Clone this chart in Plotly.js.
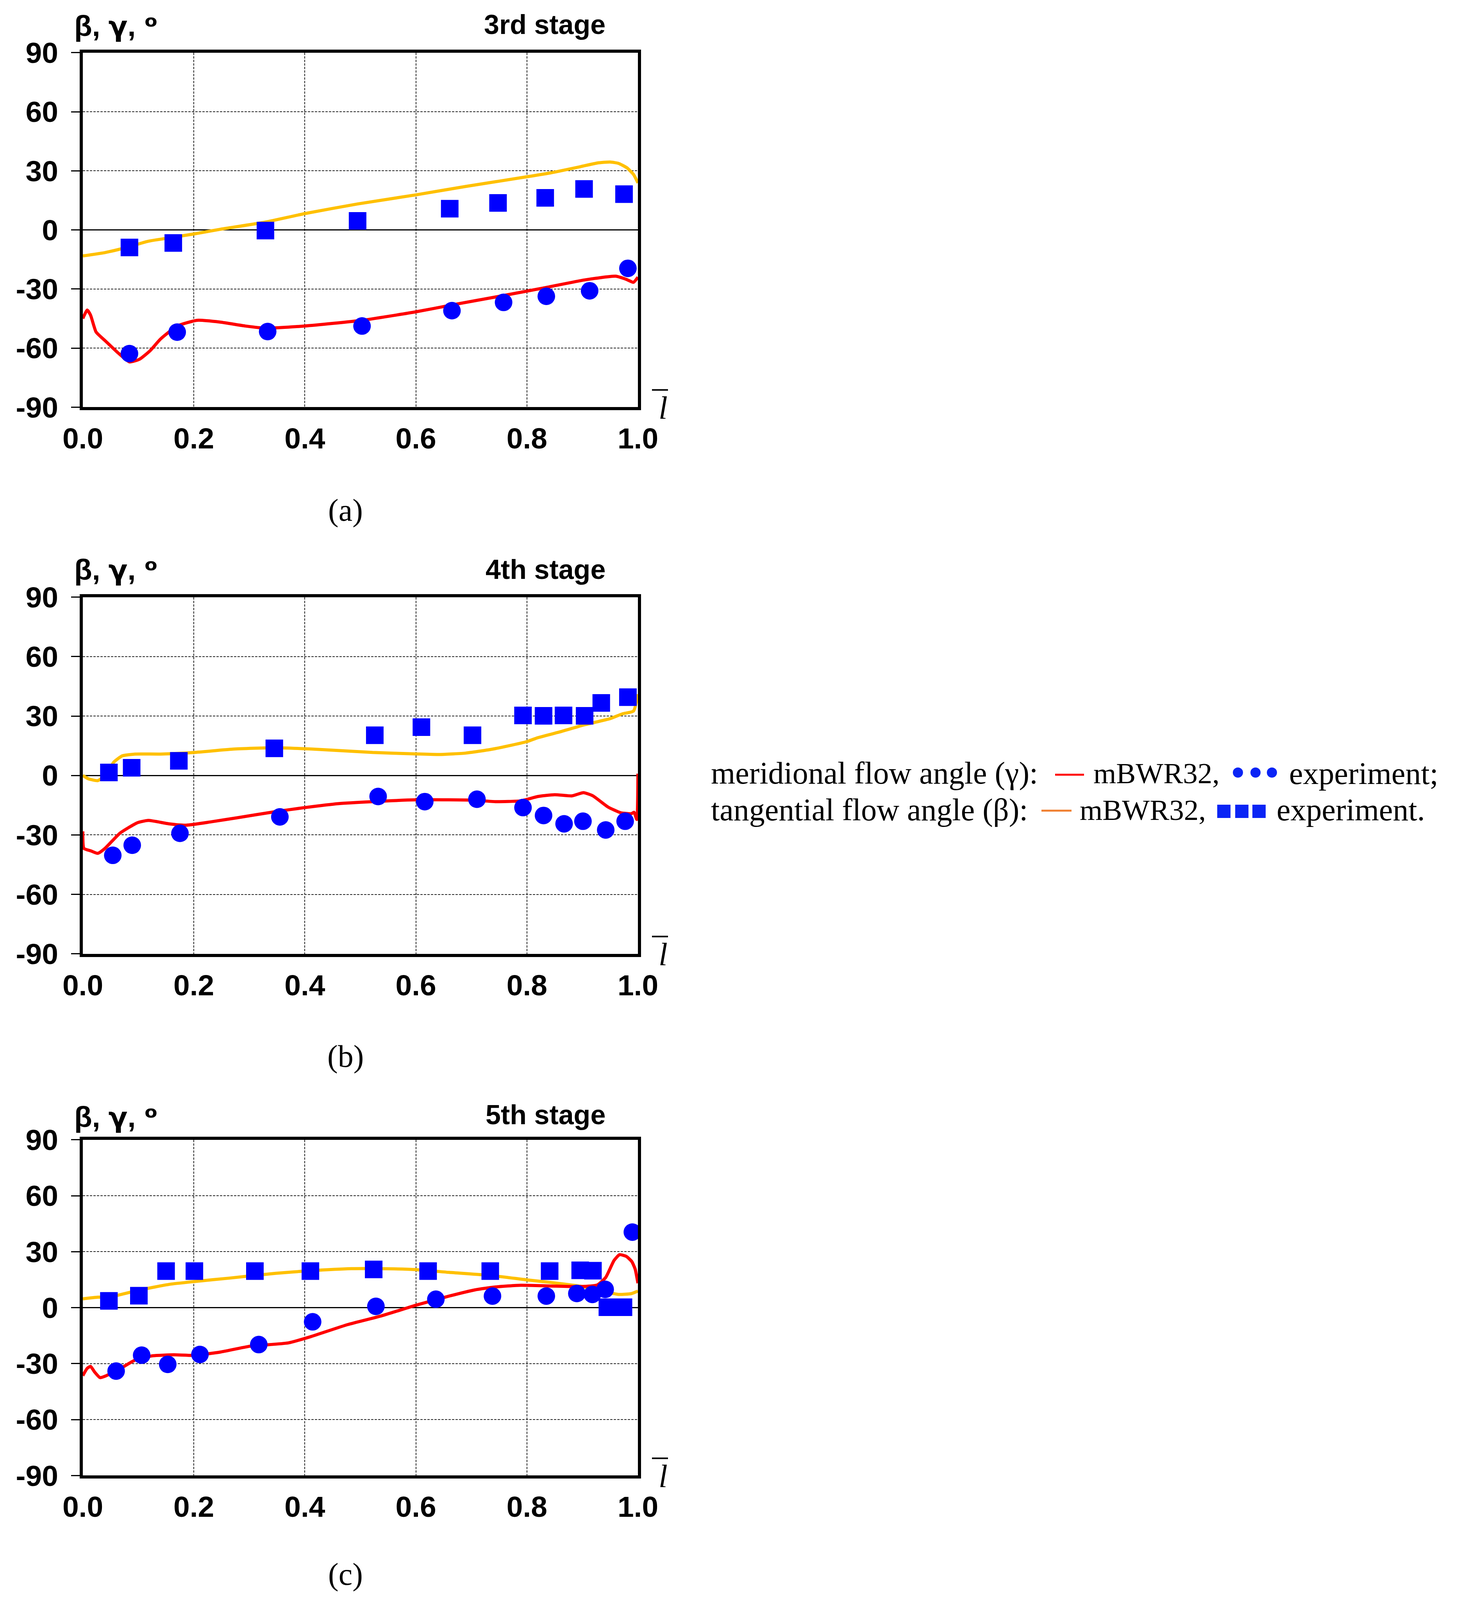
<!DOCTYPE html>
<html>
<head>
<meta charset="utf-8">
<script src="https://cdn.plot.ly/plotly-3.0.1.min.js"></script>
<style>html,body{margin:0;padding:0;background:#fff;overflow:hidden;}</style>
</head>
<body>
<div id="chart"></div>
<script>
// ---------- data ----------
const xTickVals = [0, 0.2, 0.4, 0.6, 0.8, 1.0];
const xTickText = ['0.0', '0.2', '0.4', '0.6', '0.8', '1.0'];
const yTickVals = [-90, -60, -30, 0, 30, 60, 90];
const yTickText = ['-90', '-60', '-30', '0', '30', '60', '90'];
const stageTitles = ['3rd stage', '4th stage', '5th stage'];
const panelLabels = ['(a)', '(b)', '(c)'];
const yTitleText = 'β, <span style="font-family:DejaVu Sans;font-size:72px">γ</span>, <span style="font-family:DejaVu Sans;font-size:75px">ᵒ</span>';
const legendRow1 = ['meridional flow angle (γ):', 'mBWR32,', 'experiment;'];
const legendRow2 = ['tangential flow angle (β):', 'mBWR32,', 'experiment.'];
const axisSymbol = 'l';

// Panel (a) 3rd stage
const a_betaModelX = [0, 0.040, 0.079, 0.117, 0.163, 0.201, 0.247, 0.329, 0.400, 0.495, 0.600, 0.690, 0.800, 0.843, 0.896, 0.927, 0.950, 0.965, 0.980, 0.992, 1.0];
const a_betaModelY = [-13.2, -11.5, -8.9, -5.8, -3.7, -2.0, 0.3, 4.0, 8.3, 13.2, 17.8, 22.1, 27.0, 29.0, 32.1, 34.0, 34.5, 33.8, 31.6, 28.2, 23.9];
const a_gammaModelX = [0, 0.008, 0.014, 0.024, 0.040, 0.063, 0.084, 0.102, 0.121, 0.140, 0.170, 0.206, 0.247, 0.293, 0.329, 0.400, 0.503, 0.600, 0.665, 0.758, 0.835, 0.904, 0.960, 0.980, 0.992, 1.0];
const a_gammaModelY = [-45.0, -40.7, -43.3, -51.9, -56.2, -62.3, -67.0, -65.7, -61.4, -55.4, -48.8, -45.9, -46.8, -48.8, -49.9, -48.8, -45.9, -41.6, -38.1, -33.3, -29.2, -25.4, -23.5, -25.2, -26.6, -24.0];
const a_betaExpX = [0.084, 0.163, 0.329, 0.495, 0.661, 0.748, 0.833, 0.903, 0.975];
const a_betaExpY = [-8.9, -6.6, -0.3, 4.6, 10.8, 13.7, 16.3, 20.8, 18.2];
const a_gammaExpX = [0.084, 0.170, 0.333, 0.503, 0.665, 0.758, 0.835, 0.913, 0.982];
const a_gammaExpY = [-62.8, -51.9, -51.6, -48.8, -41.0, -36.8, -33.7, -30.9, -19.5];

// Panel (b) 4th stage
const b_betaModelX = [0, 0.010, 0.027, 0.040, 0.056, 0.071, 0.094, 0.140, 0.201, 0.270, 0.346, 0.422, 0.522, 0.600, 0.644, 0.690, 0.736, 0.766, 0.800, 0.820, 0.858, 0.904, 0.950, 0.972, 0.992, 1.0];
const b_betaModelY = [0, -1.7, -2.6, 0, 6.8, 9.9, 10.8, 10.8, 11.6, 13.3, 14.0, 13.2, 11.6, 10.9, 10.6, 11.3, 13.2, 14.9, 17.1, 19.1, 21.9, 25.6, 28.7, 31.1, 32.5, 41.0];
const b_gammaModelX = [0, 0.002, 0.014, 0.027, 0.040, 0.067, 0.098, 0.118, 0.155, 0.186, 0.231, 0.277, 0.346, 0.400, 0.461, 0.522, 0.600, 0.659, 0.705, 0.743, 0.789, 0.820, 0.850, 0.881, 0.902, 0.919, 0.946, 0.969, 0.988, 0.993, 0.998, 1.0];
const b_gammaModelY = [-28.2, -36.8, -38.0, -39.3, -36.8, -29.1, -23.9, -22.7, -24.4, -25.1, -23.4, -21.4, -18.3, -16.2, -14.2, -13.2, -12.3, -12.3, -12.5, -13.2, -12.8, -10.6, -9.7, -10.3, -8.7, -10.3, -15.9, -18.8, -19.3, -18.6, -22.2, 0.9];
const b_betaExpX = [0.047, 0.088, 0.173, 0.345, 0.526, 0.610, 0.702, 0.793, 0.830, 0.866, 0.904, 0.934, 0.982];
const b_betaExpY = [1.5, 3.9, 7.4, 13.7, 20.3, 24.4, 20.3, 30.3, 30.1, 30.3, 30.1, 36.6, 39.5];
const b_gammaExpX = [0.054, 0.089, 0.175, 0.355, 0.532, 0.616, 0.710, 0.793, 0.830, 0.867, 0.901, 0.942, 0.977];
const b_gammaExpY = [-40.3, -35.2, -29.2, -20.9, -10.6, -13.2, -12.0, -16.2, -20.2, -24.4, -23.1, -27.5, -23.1];

// Panel (c) 5th stage
const c_betaModelX = [0, 0.027, 0.050, 0.103, 0.156, 0.201, 0.263, 0.347, 0.410, 0.484, 0.538, 0.600, 0.660, 0.734, 0.800, 0.843, 0.896, 0.934, 0.965, 0.988, 1.0];
const c_betaModelY = [4.7, 5.6, 5.8, 9.5, 12.5, 14.0, 15.8, 18.4, 19.8, 20.9, 20.9, 20.4, 18.9, 17.3, 14.9, 13.5, 11.5, 8.9, 7.1, 7.5, 8.9];
const c_gammaModelX = [0, 0.008, 0.014, 0.021, 0.031, 0.042, 0.069, 0.095, 0.126, 0.164, 0.201, 0.248, 0.301, 0.370, 0.410, 0.477, 0.538, 0.600, 0.660, 0.706, 0.744, 0.789, 0.843, 0.896, 0.927, 0.942, 0.957, 0.967, 0.979, 0.989, 0.995, 1.0];
const c_gammaModelY = [-36.5, -32.5, -31.5, -34.4, -37.5, -36.5, -32.4, -28.0, -25.8, -25.3, -25.6, -23.8, -20.7, -18.9, -15.6, -9.1, -4.4, 1.3, 6.2, 9.5, 11.1, 12.0, 11.6, 11.3, 12.2, 16.2, 25.3, 28.4, 27.5, 24.7, 20.7, 13.1];
const c_betaExpX = [0.047, 0.101, 0.150, 0.201, 0.310, 0.410, 0.524, 0.622, 0.734, 0.841, 0.896, 0.919, 0.945, 0.974];
const c_betaExpY = [3.6, 6.4, 19.6, 19.6, 19.6, 19.6, 20.5, 19.6, 19.6, 19.6, 20.0, 19.8, 0.2, 0.2];
const c_gammaExpX = [0.060, 0.106, 0.153, 0.211, 0.317, 0.414, 0.528, 0.636, 0.738, 0.835, 0.890, 0.918, 0.941, 0.990];
const c_gammaExpY = [-34.0, -25.5, -30.4, -25.1, -19.8, -7.6, 0.7, 4.5, 6.2, 6.2, 7.6, 7.1, 9.8, 40.5];

// ---------- styling / layout ----------
// Design frame is 3781 x 4370; positions are converted to paper fractions,
// so the figure fills whatever viewport the page actually gets.
const REF_W = 3781, REF_H = 4370;
const vw = window.innerWidth || REF_W, vh = window.innerHeight || REF_H;
const W = Math.min(REF_W, vw), H = Math.min(REF_H, vh);
document.getElementById('chart').style.width = W + 'px';
document.getElementById('chart').style.height = H + 'px';
const px = v => v / REF_W;
const py = v => 1 - v / REF_H;
const RED = '#FF0000', GOLD = '#FFC000', BLUE = '#0000FF', LEG_ORANGE = '#F07F30', LEG_BLUE = '#0A24F5';
const plotLeft = 212, plotRight = 1633;
const panels = [
  {top: 144, bottom: 1112, bx: a_betaModelX, by: a_betaModelY, gx: a_gammaModelX, gy: a_gammaModelY,
   sbx: a_betaExpX, sby: a_betaExpY, sgx: a_gammaExpX, sgy: a_gammaExpY, titleY: 70, stageY: 67, labelY: 1394},
  {top: 1631, bottom: 2605, bx: b_betaModelX, by: b_betaModelY, gx: b_gammaModelX, gy: b_gammaModelY,
   sbx: b_betaExpX, sby: b_betaExpY, sgx: b_gammaExpX, sgy: b_gammaExpY, titleY: 1556, stageY: 1555, labelY: 2885},
  {top: 3113, bottom: 4030, bx: c_betaModelX, by: c_betaModelY, gx: c_gammaModelX, gy: c_gammaModelY,
   sbx: c_betaExpX, sby: c_betaExpY, sgx: c_gammaExpX, sgy: c_gammaExpY, titleY: 3050, stageY: 3045, labelY: 4300}
];

const sansBold = {family: 'Liberation Sans, Arial, sans-serif', size: 75, color: '#000', weight: 'bold'};
const serif = 'Liberation Serif, Times New Roman, serif';

const traces = [];
const layout = {
  width: W, height: H,
  margin: {l: 0, r: 0, t: 0, b: 0},
  paper_bgcolor: '#fff', plot_bgcolor: '#fff',
  showlegend: false,
  annotations: [], shapes: []
};

panels.forEach((p, i) => {
  const n = i === 0 ? '' : String(i + 1);
  const xa = 'x' + n, ya = 'y' + n;
  traces.push({x: p.bx, y: p.by, xaxis: xa, yaxis: ya, mode: 'lines', line: {color: GOLD, width: 8, shape: 'spline', smoothing: 0.5}});
  traces.push({x: p.gx, y: p.gy, xaxis: xa, yaxis: ya, mode: 'lines', line: {color: RED, width: 8, shape: 'spline', smoothing: 0.5}});
  traces.push({x: p.sbx, y: p.sby, xaxis: xa, yaxis: ya, mode: 'markers', marker: {symbol: 'square', size: 45, color: BLUE}});
  traces.push({x: p.sgx, y: p.sgy, xaxis: xa, yaxis: ya, mode: 'markers', marker: {symbol: 'circle', size: 45, color: BLUE}});

  layout['xaxis' + n] = {
    domain: [px(plotLeft), px(plotRight)], anchor: ya, range: [0, 1],
    tickvals: xTickVals, ticktext: xTickText, ticks: '',
    tickfont: sansBold, ticklabelstandoff: 8,
    showgrid: true, gridcolor: '#2a2a2a', gridwidth: 2, griddash: '6px,3px',
    zeroline: false, showline: true, linecolor: '#000', linewidth: 8, mirror: true,
    fixedrange: true
  };
  layout['yaxis' + n] = {
    domain: [py(p.bottom), py(p.top)], anchor: xa, range: [-90, 90],
    tickvals: yTickVals, ticktext: yTickText, ticks: 'outside', ticklen: 22, tickwidth: 3, tickcolor: '#000',
    tickfont: sansBold, ticklabelstandoff: 18,
    showgrid: true, gridcolor: '#2a2a2a', gridwidth: 2, griddash: '6px,3px',
    zeroline: true, zerolinecolor: '#000', zerolinewidth: 3,
    showline: true, linecolor: '#000', linewidth: 8, mirror: true,
    fixedrange: true
  };

  layout.annotations.push({xref: 'paper', yref: 'paper', x: px(188), y: py(p.titleY), xanchor: 'left', yanchor: 'middle',
    text: yTitleText, showarrow: false, font: sansBold});
  layout.annotations.push({xref: 'paper', yref: 'paper', x: px(1552), y: py(p.stageY), xanchor: 'right', yanchor: 'middle',
    text: stageTitles[i], showarrow: false, font: {family: 'Liberation Sans, Arial, sans-serif', size: 70, color: '#000', weight: 'bold'}});
  layout.annotations.push({xref: 'paper', yref: 'paper', x: px(884), y: py(p.labelY), xanchor: 'center', yanchor: 'middle',
    text: panelLabels[i], showarrow: false, font: {family: serif, size: 80, color: '#000'}});
  layout.annotations.push({xref: 'paper', yref: 'paper', x: px(1697), y: py(p.bottom + 2), xanchor: 'center', yanchor: 'middle',
    text: axisSymbol, showarrow: false, font: {family: serif, size: 82, color: '#000', style: 'italic'}});
  layout.shapes.push({type: 'line', xref: 'paper', yref: 'paper', x0: px(1669), x1: px(1710),
    y0: py(p.bottom - 47), y1: py(p.bottom - 47), line: {color: '#000', width: 4}});
});

// ---------- legend (drawn as text + shapes) ----------
const legFont = {family: serif, size: 80, color: '#000'};
const legFontS = {family: serif, size: 75, color: '#000'};
const row1Y = 2112, row2Y = 2212;
function legText(x, y, t, f) {
  layout.annotations.push({xref: 'paper', yref: 'paper', x: px(x), y: py(y), xanchor: 'left', yanchor: 'middle', text: t, showarrow: false, font: f});
}
legText(1818, row1Y, legendRow1[0], legFont);
legText(2797, row1Y, legendRow1[1], legFontS);
legText(3298, row1Y, legendRow1[2], legFont);
legText(1818, row2Y, legendRow2[0], legFont);
legText(2762, row2Y, legendRow2[1], legFontS);
legText(3266, row2Y, legendRow2[2], legFont);
layout.shapes.push({type: 'line', xref: 'paper', yref: 'paper', x0: px(2701), x1: px(2775), y0: py(2116), y1: py(2116), line: {color: RED, width: 5}});
layout.shapes.push({type: 'line', xref: 'paper', yref: 'paper', x0: px(2666), x1: px(2743), y0: py(2214), y1: py(2214), line: {color: LEG_ORANGE, width: 5}});
[3169, 3214, 3256].forEach(cx => {
  layout.shapes.push({type: 'circle', xref: 'paper', yref: 'paper', xsizemode: 'pixel', ysizemode: 'pixel',
    xanchor: px(cx), yanchor: py(2110), x0: -13, x1: 13, y0: -13, y1: 13, fillcolor: LEG_BLUE, line: {width: 0}});
});
[3133, 3179, 3223].forEach(cx => {
  layout.shapes.push({type: 'rect', xref: 'paper', yref: 'paper', xsizemode: 'pixel', ysizemode: 'pixel',
    xanchor: px(cx), yanchor: py(2216), x0: -17, x1: 17, y0: -17, y1: 17, fillcolor: LEG_BLUE, line: {width: 0}});
});

Plotly.newPlot('chart', traces, layout, {staticPlot: true, displayModeBar: false});
</script>
</body>
</html>
